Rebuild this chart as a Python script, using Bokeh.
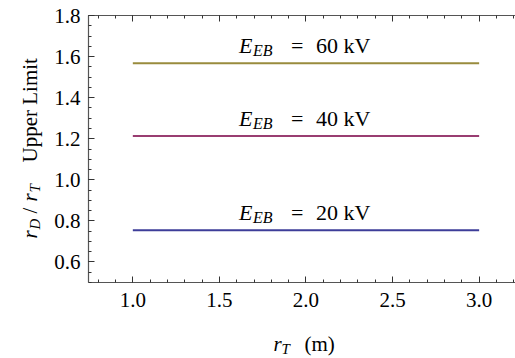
from bokeh.plotting import figure
from bokeh.layouts import row, column
from bokeh.models import (ColumnDataSource, FixedTicker, LinearAxis,
                          Range1d, PrintfTickFormatter)
from bokeh.core.properties import value
from bokeh.embed import file_html
from bokeh.resources import INLINE
import math

# Upper limit of r_D/r_T for three beam energies, flat over the r_T range
voltages_kv = [20, 40, 60]
ratio_limit = [0.755, 1.213, 1.568]
series_colors = ["#3D3D99", "#993D71", "#998B3D"]
rt_start, rt_end = 1.0, 3.0

x_major = [1.0, 1.5, 2.0, 2.5, 3.0]
x_minor = [round(0.7 + 0.1 * i, 2) for i in range(27)]
y_major = [0.6, 0.8, 1.0, 1.2, 1.4, 1.6, 1.8]
y_minor = [round(0.5 + 0.05 * i, 2) for i in range(27)]

SERIF = "Liberation Serif"
FS = "21px"
LBL_FS = "22px"
LBL_SUB_FS = "16px"
TITLE_FS = "21px"
TITLE_SUB_FS = "15px"
AXIS_GRAY = "#555555"

PAGE_W, PAGE_H = 515, 358
TITLE_W = 45               # strip holding the vertical axis title
MAIN_H = 322               # main plot height; x title strip sits below it
FRAME_TOP, FRAME_BOTTOM = 15, 282

x_lo, x_hi = 0.744, 3.21
y_lo, y_hi = 0.5, 1.8

main = figure(width=PAGE_W - TITLE_W, height=MAIN_H, output_backend="svg",
              toolbar_location=None, title=None,
              x_range=Range1d(x_lo, x_hi), y_range=Range1d(y_lo, y_hi),
              x_axis_location=None, y_axis_location=None,
              min_border_left=88 - TITLE_W, min_border_right=0,
              min_border_top=FRAME_TOP,
              min_border_bottom=MAIN_H - FRAME_BOTTOM)
main.outline_line_color = None
main.grid.visible = False
main.border_fill_color = "white"


def styled_axis():
    ax = LinearAxis()
    ax.axis_line_color = AXIS_GRAY
    ax.axis_line_width = 1.2
    ax.major_tick_line_color = "#333333"
    ax.minor_tick_line_color = "#333333"
    ax.major_tick_in = 6
    ax.major_tick_out = 0
    ax.minor_tick_in = 3
    ax.minor_tick_out = 0
    ax.major_label_text_font = SERIF
    ax.major_label_text_font_size = FS
    ax.major_label_text_color = "black"
    ax.formatter = PrintfTickFormatter(format="%.1f")
    return ax


bottom = styled_axis()
bottom.ticker = FixedTicker(ticks=x_major, minor_ticks=x_minor)
bottom.major_label_standoff = 10
main.add_layout(bottom, "below")

# frame top: ticks only, no numbers
top = styled_axis()
top.ticker = FixedTicker(ticks=x_major, minor_ticks=x_minor)
top.major_label_overrides = {t: "" for t in x_major}
top.major_label_standoff = 0
main.add_layout(top, "above")

left = styled_axis()
left.ticker = FixedTicker(ticks=y_major, minor_ticks=y_minor)
left.major_label_standoff = 8
main.add_layout(left, "left")

# the three horizontal limit lines
for v, r, c in zip(voltages_kv, ratio_limit, series_colors):
    main.line([rt_start, rt_end], [r, r], line_color=c, line_width=2)

# in-plot labels "E_EB = N kV", anchored above each line at r_T = 2
mid = (rt_start + rt_end) / 2
src = ColumnDataSource(dict(
    x=[mid] * len(voltages_kv),
    y=ratio_limit,
    rest=[f"{v} kV" for v in voltages_kv],
))
common = dict(source=src, text_font=value(SERIF), text_color="black",
              text_align="left", text_baseline="alphabetic")
main.text(x="x", y="y", text=value("E"), text_font_size=LBL_FS,
          text_font_style="italic", x_offset=-67, y_offset=-18, **common)
main.text(x="x", y="y", text=value("EB"), text_font_size=LBL_SUB_FS,
          text_font_style="italic", x_offset=-53, y_offset=-13, **common)
main.text(x="x", y="y", text=value("="), text_font_size=LBL_FS,
          x_offset=-15, y_offset=-18, **common)
main.text(x="x", y="y", text="rest", text_font_size=LBL_FS,
          x_offset=10, y_offset=-18, **common)


def title_strip(x0, w, h, top_px, bottom_px, border_top=0, border_bottom=0):
    """Bare figure whose data units are page pixels (y measured upward).
    top_px/bottom_px are the page rows covered by its frame."""
    f = figure(width=w, height=h, output_backend="svg", toolbar_location=None,
               title=None,
               x_range=Range1d(x0, x0 + w),
               y_range=Range1d(PAGE_H - bottom_px, PAGE_H - top_px),
               x_axis_location=None, y_axis_location=None,
               min_border_left=0, min_border_right=0,
               min_border_top=border_top, min_border_bottom=border_bottom)
    f.outline_line_color = None
    f.grid.visible = False
    return f


def put(fig, text, px, py, size=TITLE_FS, italic=False, angle=0.0):
    fig.text(x=[px], y=[PAGE_H - py], text=value(text),
             text_font=value(SERIF), text_font_size=size,
             text_font_style="italic" if italic else "normal",
             text_color="black", text_align="left",
             text_baseline="alphabetic", angle=angle)


# vertical title: r_D/r_T Upper Limit, reading upward; its frame shares the
# main plot's frame rows
ytitle = title_strip(0, TITLE_W, MAIN_H, FRAME_TOP, FRAME_BOTTOM,
                     border_top=FRAME_TOP,
                     border_bottom=MAIN_H - FRAME_BOTTOM)
up = math.pi / 2
put(ytitle, "r", 29, 238, italic=True, angle=up)
put(ytitle, "D", 34, 229, size=TITLE_SUB_FS, italic=True, angle=up)
put(ytitle, "/", 29, 213, angle=up)
put(ytitle, "r", 29, 201, italic=True, angle=up)
put(ytitle, "T", 34, 192, size=TITLE_SUB_FS, italic=True, angle=up)
put(ytitle, "Upper Limit", 29, 162, angle=up)

# horizontal title: r_T (m), spanning the full page width
xtitle = title_strip(0, PAGE_W, PAGE_H - MAIN_H, MAIN_H, PAGE_H)
put(xtitle, "r", 273, 343, italic=True)
put(xtitle, "T", 281, 348, size=TITLE_SUB_FS, italic=True)
put(xtitle, "(m)", 304, 343)

layout = column(row(ytitle, main, spacing=0), xtitle, spacing=0)
open("out.html", "w").write(file_html(layout, INLINE))
